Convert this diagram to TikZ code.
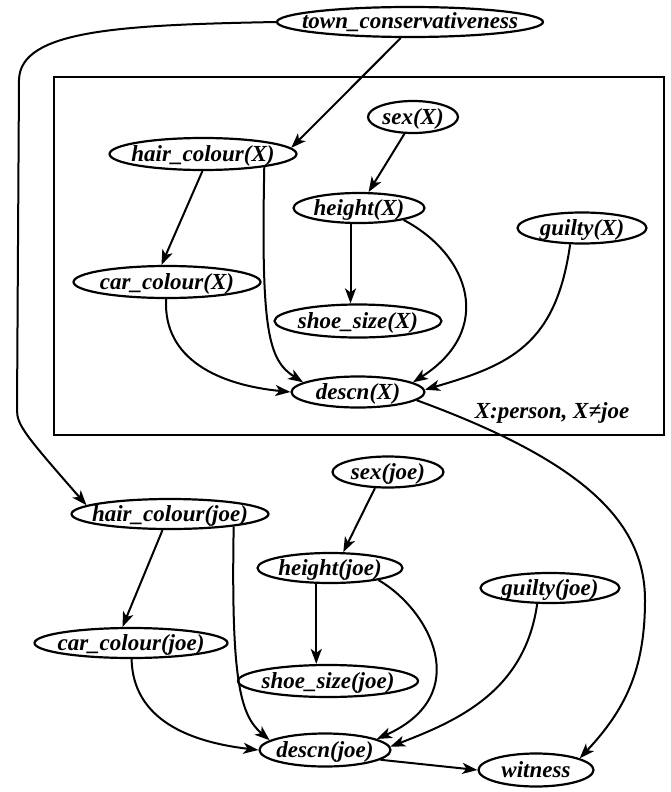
\documentclass[tikz,border=0pt]{standalone}
\usepackage{fontspec}
\setmainfont{Liberation Serif}
\usetikzlibrary{shapes.geometric,arrows.meta}
\newcommand{\ntxt}[1]{\makebox[0pt]{#1}}
\begin{document}
\begin{tikzpicture}[x=1pt,y=-1pt,
  nd/.style={draw, ellipse, line width=2.2pt, inner sep=0pt, text height=15pt, text depth=1pt,
    font=\bfseries\itshape\fontsize{23}{28}\selectfont},
  ed/.style={line width=2pt, -{Stealth[length=15pt,width=11pt,inset=4pt]}},
  lb/.style={font=\bfseries\itshape\fontsize{23}{28}\selectfont, inner sep=0pt}
  ]
\useasboundingbox (0,0) rectangle (671,792);
% plate
\draw[line width=2.4pt] (54,77) rectangle (664,435);
% nodes
\node[nd, minimum width=266pt, minimum height=30pt] (town) at (410,22) {\ntxt{town\_conservativeness}};
\node[nd, minimum width=90pt, minimum height=32pt] (sexX) at (413,117) {\ntxt{sex(X)}};
\node[nd, minimum width=187pt, minimum height=32pt] (hcX) at (203,154) {\ntxt{hair\_colour(X)}};
\node[nd, minimum width=131pt, minimum height=30pt] (hX) at (359,208) {\ntxt{height(X)}};
\node[nd, minimum width=129pt, minimum height=31pt] (gX) at (582,228) {\ntxt{guilty(X)}};
\node[nd, minimum width=187pt, minimum height=32pt] (ccX) at (167,282) {\ntxt{car\_colour(X)}};
\node[nd, minimum width=167pt, minimum height=33pt] (ssX) at (358,321) {\ntxt{shoe\_size(X)}};
\node[nd, minimum width=133pt, minimum height=31pt] (dX) at (358,392) {\ntxt{descn(X)}};
\node[lb] (lbl) at (552,413) {X:person, X≠joe};
\node[nd, minimum width=111pt, minimum height=31pt] (sexJ) at (388,472) {\ntxt{sex(joe)}};
\node[nd, minimum width=197pt, minimum height=30pt] (hcJ) at (170,514) {\ntxt{hair\_colour(joe)}};
\node[nd, minimum width=145pt, minimum height=30pt] (hJ) at (330,568) {\ntxt{height(joe)}};
\node[nd, minimum width=139pt, minimum height=30pt] (gJ) at (550,588) {\ntxt{guilty(joe)}};
\node[nd, minimum width=193pt, minimum height=30pt] (ccJ) at (131,643) {\ntxt{car\_colour(joe)}};
\node[nd, minimum width=180pt, minimum height=32pt] (ssJ) at (328,681) {\ntxt{shoe\_size(joe)}};
\node[nd, minimum width=131pt, minimum height=33pt] (dJ) at (325,750) {\ntxt{descn(joe)}};
\node[nd, minimum width=115pt, minimum height=33pt] (wit) at (536,770) {\ntxt{witness}};
% edges, plate
\draw[ed] (town.-120) -- (hcX.4);
\draw[ed] (sexX.-117) -- (hX.59);
\draw[ed] (hcX.-92) -- (ccX.108);
\draw[ed] (hcX.-12) .. controls (261,330) and (268,360) .. (dX.170);
\draw[ed] (hX.-118) -- (hX.-118 |- ssX.north);
\draw[ed] (hX.-15) .. controls (470,255) and (495,330) .. (dX.10);
\draw[ed] (gX.-126) .. controls (556,345) and (510,365) .. (dX.2);
\draw[ed] (ccX.-93) .. controls (163,360) and (220,385) .. (dX.west);
\draw[ed] (dX.-8) .. controls (580,460) and (645,520) .. (645,600)
   .. controls (645,670) and (625,710) .. (wit.15);
% edges, joe
\draw[ed] (town.west) .. controls (120,25) and (20,30) .. (19,80) -- (17,410)
   .. controls (17,425) and (25,435) .. (hcJ.174);
\draw[ed] (sexJ.-129) -- (hJ.50);
\draw[ed] (hcJ.-115) -- (ccJ.118);
\draw[ed] (hcJ.-11) .. controls (231,680) and (240,715) .. (dJ.170);
\draw[ed] (hJ.-131) -- (hJ.-131 |- ssJ.north);
\draw[ed] (hJ.-14) .. controls (430,610) and (475,695) .. (dJ.12);
\draw[ed] (gJ.-129) .. controls (525,690) and (460,720) .. (dJ.3);
\draw[ed] (ccJ.-88) .. controls (133,720) and (190,742) .. (dJ.west);
\draw[ed] (dJ.-10) -- (wit.west);
\end{tikzpicture}
\end{document}
